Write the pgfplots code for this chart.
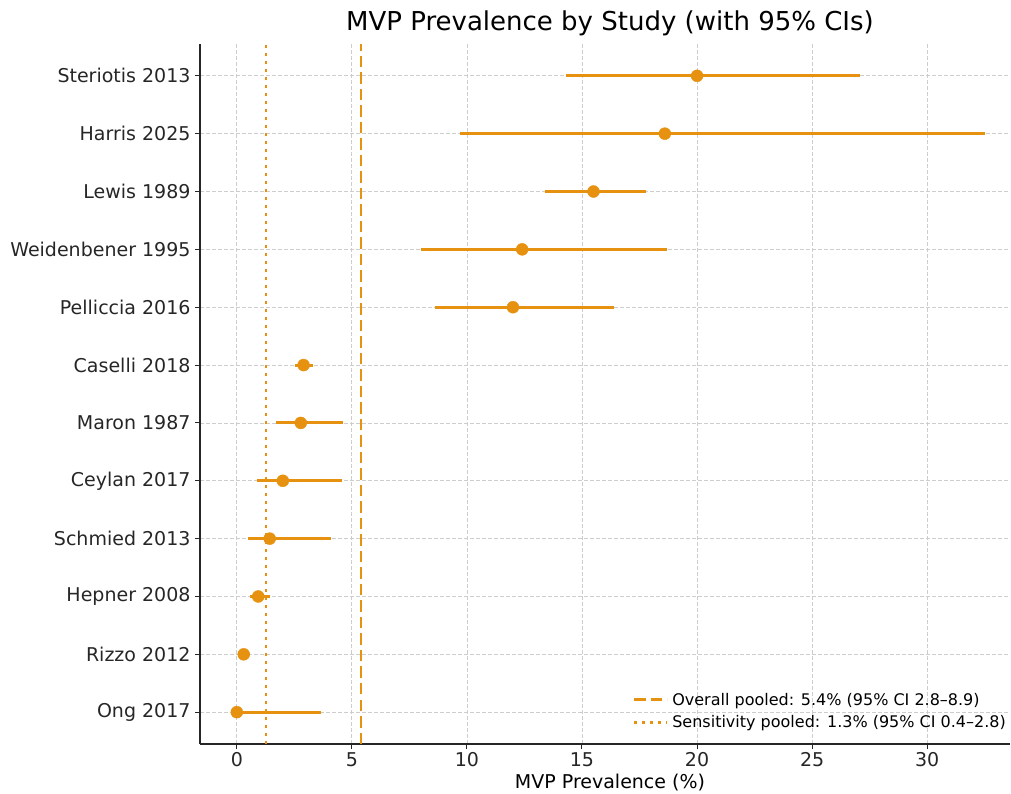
\documentclass[border=0pt]{standalone}
\usepackage{pgfplots}
\pgfplotsset{compat=1.18}
\usepackage{fontspec}
\setmainfont{DejaVu Sans}
\definecolor{org}{RGB}{230,145,15}
\definecolor{gridc}{RGB}{205,205,205}
\begin{document}
\begin{tikzpicture}
\begin{axis}[
  scale only axis, width=810pt, height=700pt,
  xmin=-1.6, xmax=33.6, ymin=-0.55, ymax=11.55,
  axis lines*=left, axis line style={-, line width=1.3pt, black!85},
  xtick={0,5,...,30}, ytick={0,...,11},
  yticklabels={Ong 2017, Rizzo 2012, Hepner 2008, Schmied 2013, Ceylan 2017, Maron 1987, Caselli 2018, Pelliccia 2016, Weidenbener 1995, Lewis 1989, Harris 2025, Steriotis 2013},
  tick label style={font=\fontsize{19}{22}\selectfont, text=black!85},
  yticklabel style={xshift=-1pt},
  /pgf/number format/assume math mode=true,
  grid=major, major grid style={gridc, dash pattern=on 4pt off 2pt, line width=0.8pt},
  tick align=outside, major tick length=5pt, tick style={black!85, line width=1pt},
  title={MVP Prevalence by Study (with 95\% CIs)},
  title style={font=\fontsize{26}{30}\selectfont, at={(0.5,1)}, anchor=base, yshift=7pt, xshift=5pt},
  xlabel={MVP Prevalence (\%)},
  xlabel style={font=\fontsize{19}{22}\selectfont, at={(0.5,0)}, anchor=base, yshift=-44pt, xshift=5pt},
  legend style={at={(1.0,0.018)}, anchor=south east, draw=none, fill=none,
    font=\fontsize{16}{19}\selectfont, row sep=5pt, inner sep=0pt, cells={anchor=west},
    nodes={inner xsep=4pt}},
  legend image code/.code={\draw[#1] (0pt,0pt) -- (33pt,0pt);},
]
\addplot+[forget plot, only marks, mark=*, color=org, mark options={fill=org, draw=org}, mark size=6pt,
  error bars/.cd, x dir=both, x explicit, error bar style={line width=3pt, color=org}, error mark=none]
  coordinates {
  (0,0) -= (0,0) += (3.65,0)
  (0.3,1) -= (0.17,0) += (0.27,0)
  (0.93,2) -= (0.36,0) += (0.52,0)
  (1.43,3) -= (0.93,0) += (2.67,0)
  (2.0,4) -= (1.13,0) += (2.58,0)
  (2.78,5) -= (1.08,0) += (1.84,0)
  (2.9,6) -= (0.35,0) += (0.4,0)
  (12.0,7) -= (3.4,0) += (4.4,0)
  (12.4,8) -= (4.4,0) += (6.3,0)
  (15.5,9) -= (2.1,0) += (2.3,0)
  (18.6,10) -= (8.9,0) += (13.9,0)
  (20.0,11) -= (5.7,0) += (7.1,0)
  };
\addplot[org, line width=2.5pt, dash pattern=on 11.5pt off 5pt] coordinates {(5.4,-0.55) (5.4,11.55)};
\addlegendentry{Overall pooled: 5.4\% (95\% CI 2.8–8.9)}
\addplot[org, line width=2.5pt, dash pattern=on 3pt off 5pt] coordinates {(1.26,-0.55) (1.26,11.55)};
\addlegendentry{Sensitivity pooled: 1.3\% (95\% CI 0.4–2.8)}
\coordinate (sw) at (rel axis cs:0,0);
\end{axis}
\path ([xshift=-200pt,yshift=-49pt]sw) rectangle ([xshift=811pt,yshift=744pt]sw);
\end{tikzpicture}
\end{document}
